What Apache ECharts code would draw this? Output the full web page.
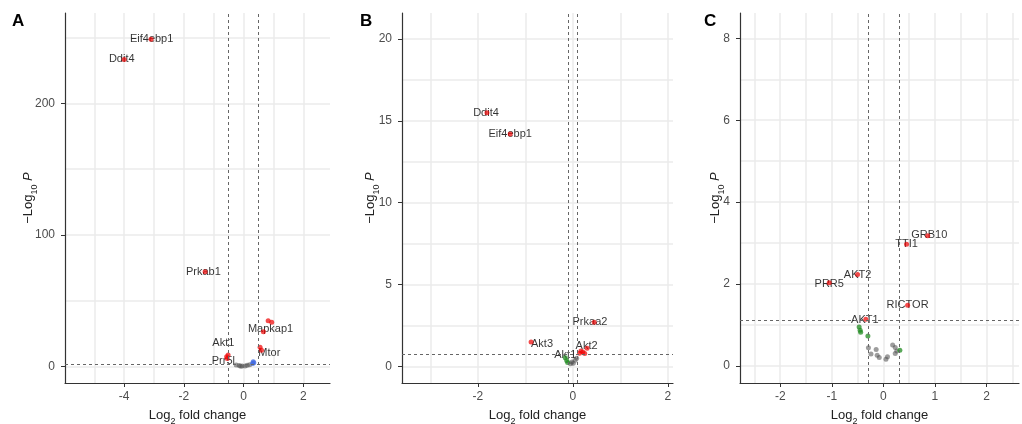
<!DOCTYPE html>
<html>
<head>
<meta charset="utf-8">
<script src="https://cdn.jsdelivr.net/npm/echarts@6/dist/echarts.min.js"></script>
<style>
html,body{margin:0;padding:0;background:#fff;}
#chart{width:1022px;height:424px;}
</style>
</head>
<body>
<div id="chart"></div>
<script>
// ---------- Panel A ----------
const aRed = [[-3.1,248.6],[-4.0,233.3],[-1.29,72.1],[0.82,34.9],[0.94,33.7],[0.66,26.6],[0.55,14.7],[0.6,12.5],[-0.52,8.9],[-0.57,7.6],[-0.55,6.2]];
const aBlue = [[0.32,3.8],[0.34,3.0],[0.3,2.4]];
const aGreen = [];
const aGrey = [[-0.25,1.2],[-0.15,0.8],[-0.05,0.5],[0.05,0.6],[0.12,1.0],[0.2,1.4],[-0.1,0.3]];
const aLabels = [["Eif4ebp1",-3.08,249],["Ddit4",-4.08,233.4],["Prkab1",-1.35,71.7],["Mapkap1",0.9,28.6],["Akt1",-0.68,17.7],["Mtor",0.86,10.1],["Prr5l",-0.68,4.6]];
const aXRange = [-5.98, 2.89];
const aYRange = [-12.4, 268.6];
const aXGrid = [-5,-4,-3,-2,-1,0,1,2];
const aYGrid = [0,50,100,150,200,250];
const aXTicks = [-4,-2,0,2];
const aYTicks = [0,100,200];
const aFC = 0.5, aP = 1.8;

// ---------- Panel B ----------
const bRed = [[-1.81,15.5],[-1.32,14.2],[0.45,2.7],[-0.88,1.49],[0.17,0.94],[0.21,0.88],[0.14,0.8],[0.3,1.1],[0.25,0.78]];
const bBlue = [];
const bGreen = [[-0.16,0.53],[-0.13,0.35],[-0.11,0.24]];
const bGrey = [[-0.02,0.26],[0.05,0.37],[0.08,0.49],[0.01,0.18],[-0.05,0.15]];
const bLabels = [["Ddit4",-1.83,15.47],["Eif4ebp1",-1.32,14.19],["Prkaa2",0.36,2.69],["Akt3",-0.65,1.39],["Akt2",0.29,1.24],["Akt1",-0.16,0.67]];
const bXRange = [-3.6, 2.11];
const bYRange = [-1.02, 21.6];
const bXGrid = [-3,-2,-1,0,1,2];
const bYGrid = [0,2.5,5,7.5,10,12.5,15,17.5,20];
const bXTicks = [-2,0,2];
const bYTicks = [0,5,10,15,20];
const bFC = 0.1, bP = 0.72;

// ---------- Panel C ----------
const cRed = [[0.86,3.18],[0.45,2.97],[-0.5,2.23],[-1.05,2.03],[0.47,1.48],[-0.34,1.14]];
const cBlue = [];
const cGreen = [[-0.47,0.95],[-0.45,0.87],[-0.44,0.82],[-0.3,0.73],[0.32,0.38]];
const cGrey = [[-0.29,0.44],[-0.24,0.29],[-0.14,0.40],[-0.12,0.26],[-0.08,0.2],[0.05,0.16],[0.08,0.22],[0.18,0.51],[0.23,0.45],[0.26,0.36],[0.23,0.30]];
const cLabels = [["GRB10",0.89,3.19],["TTI1",0.45,2.97],["AKT2",-0.5,2.21],["PRR5",-1.05,2.0],["RICTOR",0.47,1.48],["AKT1",-0.36,1.12]];
const cXRange = [-2.78, 2.63];
const cYRange = [-0.42, 8.62];
const cXGrid = [-2.5,-2,-1.5,-1,-0.5,0,0.5,1,1.5,2,2.5];
const cYGrid = [0,1,2,3,4,5,6,7,8];
const cXTicks = [-2,-1,0,1,2];
const cYTicks = [0,2,4,6,8];
const cFC = 0.3, cP = 1.12;

const panelLetters = ["A","B","C"];

const FONT = '"Liberation Sans", Arial, sans-serif';
const panels = [
  {red:aRed,blue:aBlue,green:aGreen,grey:aGrey,labels:aLabels,xr:aXRange,yr:aYRange,xg:aXGrid,yg:aYGrid,xt:aXTicks,yt:aYTicks,fc:aFC,p:aP,
   grid:{left:65,right:692,top:13,bottom:41}, yGap:30, letterX:12},
  {red:bRed,blue:bBlue,green:bGreen,grey:bGrey,labels:bLabels,xr:bXRange,yr:bYRange,xg:bXGrid,yg:bYGrid,xt:bXTicks,yt:bYTicks,fc:bFC,p:bP,
   grid:{left:402,right:349,top:13,bottom:41}, yGap:25, letterX:360},
  {red:cRed,blue:cBlue,green:cGreen,grey:cGrey,labels:cLabels,xr:cXRange,yr:cYRange,xg:cXGrid,yg:cYGrid,xt:cXTicks,yt:cYTicks,fc:cFC,p:cP,
   grid:{left:740,right:3,top:13,bottom:41}, yGap:18, letterX:704}
];

const grids = [], xAxes = [], yAxes = [], series = [], graphics = [];
const axisColor = '#333333';
const gridColor = '#ebebeb';

panels.forEach((pn, i) => {
  grids.push(Object.assign({containLabel:false, outerBoundsMode:'none'}, pn.grid));
  xAxes.push({
    type:'value', gridIndex:i, min:pn.xr[0], max:pn.xr[1],
    name:'{a|Log}{s|2}{a| fold change}', nameLocation:'middle', nameGap:23,
    nameTextStyle:{rich:{a:{fontFamily:FONT,fontSize:13,color:'#222',lineHeight:16,verticalAlign:'bottom'},
                        s:{fontFamily:FONT,fontSize:9,color:'#222',lineHeight:16,verticalAlign:'bottom',padding:[0,0,-4,0]}}},
    axisLine:{show:true,onZero:false,lineStyle:{color:axisColor,width:1.2}},
    axisTick:{show:true,customValues:pn.xg,length:0,lineStyle:{color:axisColor}},
    axisLabel:{show:true,customValues:pn.xt,margin:8,color:'#4d4d4d',fontSize:12,fontFamily:FONT},
    splitLine:{show:true,lineStyle:{color:gridColor,width:1.5}},
    minorTick:{show:false}, minorSplitLine:{show:false}
  });
  xAxes.push({
    type:'value', gridIndex:i, min:pn.xr[0], max:pn.xr[1], position:'bottom',
    axisLine:{show:false,onZero:false},
    axisTick:{show:true,customValues:pn.xt,length:4,lineStyle:{color:axisColor}},
    axisLabel:{show:false}, splitLine:{show:false}
  });
  yAxes.push({
    type:'value', gridIndex:i, min:pn.yr[0], max:pn.yr[1],
    name:'{a|\u2212Log}{s|10}{a| }{i|P}', nameLocation:'middle', nameGap:pn.yGap, nameRotate:90, nameMoveOverlap:false,
    nameTextStyle:{rich:{a:{fontFamily:FONT,fontSize:13,color:'#222',lineHeight:16,verticalAlign:'bottom'},
                        s:{fontFamily:FONT,fontSize:9,color:'#222',lineHeight:16,verticalAlign:'bottom',padding:[0,0,-4,0]},
                        i:{fontFamily:FONT,fontSize:13,fontStyle:'italic',color:'#222',lineHeight:16,verticalAlign:'bottom'}}},
    axisLine:{show:true,onZero:false,lineStyle:{color:axisColor,width:1.2}},
    axisTick:{show:true,customValues:pn.yg,length:0,lineStyle:{color:axisColor}},
    axisLabel:{show:true,customValues:pn.yt,margin:10,color:'#4d4d4d',fontSize:12,fontFamily:FONT},
    splitLine:{show:true,lineStyle:{color:gridColor,width:1.5}},
    minorTick:{show:false}, minorSplitLine:{show:false}
  });
  yAxes.push({
    type:'value', gridIndex:i, min:pn.yr[0], max:pn.yr[1], position:'left',
    axisLine:{show:false,onZero:false},
    axisTick:{show:true,customValues:pn.yt,length:4,lineStyle:{color:axisColor}},
    axisLabel:{show:false}, splitLine:{show:false}
  });
  const xi = i*2, yi = i*2;
  const mk = (data, color, op) => ({
    type:'scatter', xAxisIndex:xi, yAxisIndex:yi, data:data, symbol:'circle', symbolSize:5,
    itemStyle:{color:color, opacity:op}, silent:true, z:3
  });
  series.push(mk(pn.grey,'#4d4d4d',0.55));
  series.push(mk(pn.green,'#228b22',0.75));
  series.push(mk(pn.blue,'#4169e1',0.75));
  const red = mk(pn.red,'#ee0000',0.7);
  red.markLine = {
    silent:true, symbol:['none','none'], animation:false, label:{show:false},
    lineStyle:{color:'#666',type:[3,3],width:1},
    data:[{xAxis:-pn.fc},{xAxis:pn.fc},{yAxis:pn.p}]
  };
  series.push(red);
  series.push({
    type:'scatter', xAxisIndex:xi, yAxisIndex:yi, symbolSize:1, itemStyle:{color:'rgba(0,0,0,0)'}, silent:true, z:2,
    data: pn.labels.map(l => ({name:l[0], value:[l[1], l[2]]})),
    label:{show:true, position:'inside', formatter:'{b}', color:'#000', fontSize:11, fontFamily:FONT},
    labelLayout:{hideOverlap:false}
  });
  graphics.push({type:'text', left:pn.letterX, top:13, style:{text:panelLetters[i], font:'bold 17px '+FONT, fill:'#000'}});
});

const chart = echarts.init(document.getElementById('chart'), null, {renderer:'canvas'});
chart.setOption({
  animation:false,
  backgroundColor:'#ffffff',
  grid:grids, xAxis:xAxes, yAxis:yAxes, series:series, graphic:graphics
});
</script>
</body>
</html>
